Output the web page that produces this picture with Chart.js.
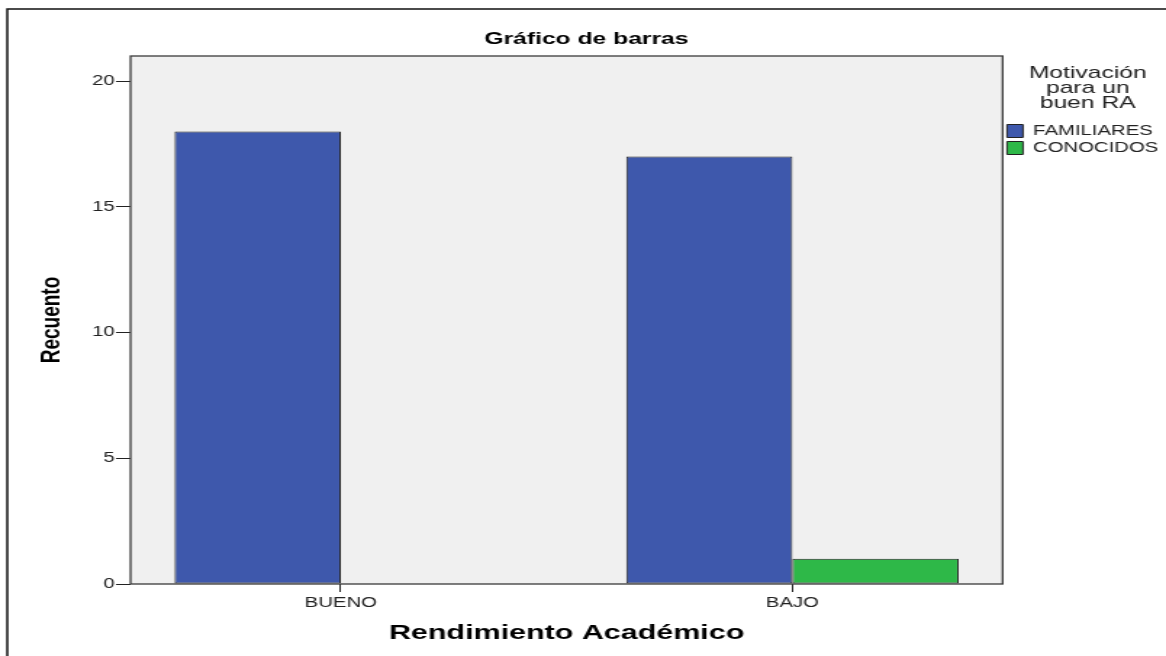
<!DOCTYPE html>
<html>
<head>
<meta charset="utf-8">
<title>Gráfico de barras</title>
<script src="https://cdn.jsdelivr.net/npm/chart.js@4.4.1/dist/chart.umd.min.js"></script>
<style>
  html, body { margin: 0; padding: 0; background: #fff; overflow: hidden; }
  /* the original export is stretched sideways, so draw narrow and widen with css */
  #chart { display: block; width: 1166px !important; height: 656px !important; }
</style>
</head>
<body>
<canvas id="chart" width="804" height="656" style="width:1166px;height:656px"></canvas>
<script>
const categories = ['BUENO', 'BAJO'];
const familiares = [18, 17];
const conocidos = [0, 1];
const yTicks = [0, 5, 10, 15, 20];

const blue = 'rgb(62, 88, 172)';
const green = 'rgb(46, 184, 72)';

function toPoints(values) {
  return values.map((v, i) => ({ x: i, y: v }));
}

// grey plot background, dark frame around it, and the cut-off page frame
const plotBox = {
  id: 'plotBox',
  beforeDraw(chart) {
    const { ctx, chartArea: a } = chart;
    ctx.save();
    ctx.fillStyle = '#f0f0f0';
    ctx.fillRect(a.left, a.top, a.right - a.left, a.bottom - a.top);
    ctx.strokeStyle = '#111';
    ctx.lineWidth = 1.5;
    ctx.beginPath();
    ctx.moveTo(5, chart.height);
    ctx.lineTo(5, 9);
    ctx.lineTo(chart.width, 9);
    ctx.stroke();
    ctx.restore();
  },
  afterDatasetsDraw(chart) {
    const { ctx, chartArea: a } = chart;
    ctx.save();
    ctx.strokeStyle = '#3a3a3a';
    ctx.lineWidth = 1.3;
    ctx.strokeRect(a.left, a.top, a.right - a.left, a.bottom - a.top);
    ctx.restore();
  }
};

Chart.defaults.font.family = "'Liberation Sans', Arial, sans-serif";
Chart.defaults.color = '#222';

new Chart(document.getElementById('chart'), {
  type: 'bar',
  data: {
    datasets: [
      {
        label: 'FAMILIARES',
        data: toPoints(familiares),
        backgroundColor: blue,
        borderColor: '#222',
        borderWidth: 1,
        borderSkipped: false
      },
      {
        label: 'CONOCIDOS',
        data: toPoints(conocidos),
        backgroundColor: green,
        borderColor: '#222',
        borderWidth: 1,
        borderSkipped: false
      }
    ]
  },
  options: {
    responsive: false,
    animation: false,
    devicePixelRatio: 1,
    categoryPercentage: 0.736,
    barPercentage: 1,
    layout: { padding: { left: 0, right: -4.7, top: 0, bottom: 0 } },
    scales: {
      x: {
        type: 'linear',
        offset: false,
        min: -0.4656,
        max: 1.4656,
        afterBuildTicks: s => { s.ticks = categories.map((c, i) => ({ value: i })); },
        afterFit: s => { s.height = 72; },
        ticks: {
          callback: v => categories[v],
          font: { size: 14 },
          color: '#222',
          padding: 3,
          autoSkip: false,
          maxRotation: 0
        },
        grid: { offset: false, drawOnChartArea: false, drawTicks: true, tickLength: 8, color: '#222' },
        border: { display: false },
        title: {
          display: true,
          text: 'Rendimiento Académico',
          font: { size: 21, weight: 'bold' },
          color: '#000',
          padding: { top: 0, bottom: 10.4 }
        }
      },
      y: {
        min: 0,
        max: 21,
        afterBuildTicks: s => { s.ticks = yTicks.map(v => ({ value: v })); },
        afterFit: s => { s.width = 90; },
        ticks: { font: { size: 14 }, color: '#222', padding: 1 },
        grid: { drawOnChartArea: false, drawTicks: true, tickLength: 10, color: '#222' },
        border: { display: false },
        title: {
          display: true,
          text: 'Recuento',
          font: { size: 19, weight: 'bold' },
          color: '#000',
          padding: { top: 24.5, bottom: 0 }
        }
      }
    },
    plugins: {
      title: {
        display: true,
        text: 'Gráfico de barras',
        font: { size: 17, weight: 'bold' },
        color: '#000',
        padding: { top: 28.8, bottom: 6.8 }
      },
      legend: {
        position: 'right',
        align: 'start',
        fullSize: false,
        title: {
          display: true,
          text: ['Motivación', 'para un', 'buen RA'],
          position: 'center',
          color: '#222',
          font: { size: 17, lineHeight: '15px' },
          padding: { top: 8.5, bottom: 41.5 }
        },
        labels: {
          boxWidth: 11,
          boxHeight: 13,
          padding: 3,
          color: '#222',
          font: { size: 14 }
        }
      },
      tooltip: { enabled: false }
    }
  },
  plugins: [plotBox]
});
</script>
</body>
</html>
